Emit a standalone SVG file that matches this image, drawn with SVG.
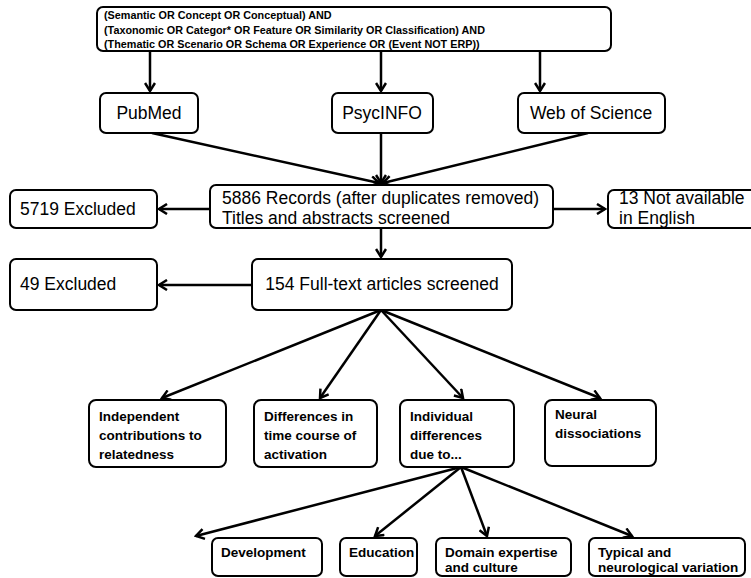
<svg xmlns="http://www.w3.org/2000/svg" width="751" height="578" viewBox="0 0 751 578">
<style>
.box{fill:#fff;stroke:#000;stroke-width:2}
.t{font-family:"Liberation Sans",Arial,sans-serif;font-size:17.5px;fill:#000}
.b{font-family:"Liberation Sans",Arial,sans-serif;font-size:13.5px;font-weight:bold;fill:#000}
.q{font-family:"Liberation Sans",Arial,sans-serif;font-size:10.8px;font-weight:bold;fill:#000}
.c{stroke:#000;stroke-width:2.5;fill:none;marker-end:url(#ah)}
</style>
<defs>
<marker id="ah" viewBox="0 0 12 12" refX="10" refY="6" markerWidth="12" markerHeight="12" markerUnits="userSpaceOnUse" orient="auto">
<path d="M2,1 L10,6 L2,11" fill="none" stroke="#000" stroke-width="2.5"/>
</marker>
</defs>
<rect width="751" height="578" fill="#fff"/>
<g id="connectors">
<line class="c" x1="150" y1="51" x2="150" y2="91"/>
<line class="c" x1="381" y1="51" x2="381" y2="91"/>
<line class="c" x1="540" y1="51" x2="540" y2="91"/>
<line class="c" x1="152" y1="133" x2="379" y2="183"/>
<line class="c" x1="381" y1="133" x2="381" y2="183"/>
<line class="c" x1="588" y1="133" x2="383" y2="183"/>
<line class="c" x1="210" y1="209" x2="159" y2="209"/>
<line class="c" x1="553" y1="209" x2="605" y2="209"/>
<line class="c" x1="381" y1="228" x2="381" y2="257"/>
<line class="c" x1="252" y1="285" x2="159" y2="285"/>
<line class="c" x1="381" y1="310" x2="162" y2="398"/>
<line class="c" x1="381" y1="310" x2="320" y2="398"/>
<line class="c" x1="381" y1="310" x2="463" y2="398"/>
<line class="c" x1="381" y1="310" x2="600" y2="398"/>
<line class="c" x1="461" y1="467" x2="196" y2="536"/>
<line class="c" x1="461" y1="467" x2="375" y2="536"/>
<line class="c" x1="461" y1="467" x2="487" y2="536"/>
<line class="c" x1="461" y1="467" x2="632" y2="536"/>
</g>
<g id="query">
<rect class="box" x="97" y="7" width="514" height="44" rx="6"/>
<text class="q" x="104" y="19">(Semantic OR Concept OR Conceptual) AND</text>
<text class="q" x="104" y="34">(Taxonomic OR Categor* OR Feature OR Similarity OR Classification) AND</text>
<text class="q" x="104" y="48">(Thematic OR Scenario OR Schema OR Experience OR (Event NOT ERP))</text>
</g>
<g id="pubmed">
<rect class="box" x="100" y="93" width="98" height="40" rx="6"/>
<text class="t" x="149" y="119" text-anchor="middle">PubMed</text>
</g>
<g id="psycinfo">
<rect class="box" x="332" y="93" width="101" height="40" rx="6"/>
<text class="t" x="382" y="119" text-anchor="middle">PsycINFO</text>
</g>
<g id="wos">
<rect class="box" x="518" y="93" width="147" height="40" rx="6"/>
<text class="t" x="591" y="119" text-anchor="middle">Web of Science</text>
</g>
<g id="records">
<rect class="box" x="210" y="185" width="343" height="43" rx="6"/>
<text class="t" x="222" y="204">5886 Records (after duplicates removed)</text>
<text class="t" x="222" y="224">Titles and abstracts screened</text>
</g>
<g id="excluded5719">
<rect class="box" x="10" y="190" width="147" height="38" rx="6"/>
<text class="t" x="20" y="215">5719 Excluded</text>
</g>
<g id="notenglish">
<rect class="box" x="608" y="190" width="160" height="38" rx="6"/>
<text class="t" x="619" y="204">13 Not available</text>
<text class="t" x="619" y="224">in English</text>
</g>
<g id="fulltext">
<rect class="box" x="252" y="259" width="260" height="51" rx="6"/>
<text class="t" x="382" y="290" text-anchor="middle">154 Full-text articles screened</text>
</g>
<g id="excluded49">
<rect class="box" x="10" y="259" width="147" height="51" rx="6"/>
<text class="t" x="20" y="290">49 Excluded</text>
</g>
<g id="independent">
<rect class="box" x="89" y="400" width="137" height="67" rx="7"/>
<text class="b" x="99" y="421">Independent</text>
<text class="b" x="99" y="440">contributions to</text>
<text class="b" x="99" y="459">relatedness</text>
</g>
<g id="timecourse">
<rect class="box" x="254" y="400" width="123" height="67" rx="7"/>
<text class="b" x="264" y="421">Differences in</text>
<text class="b" x="264" y="440">time course of</text>
<text class="b" x="264" y="459">activation</text>
</g>
<g id="individual">
<rect class="box" x="400" y="400" width="114" height="67" rx="7"/>
<text class="b" x="410" y="421">Individual</text>
<text class="b" x="410" y="440">differences</text>
<text class="b" x="410" y="459">due to...</text>
</g>
<g id="neural">
<rect class="box" x="545" y="400" width="111" height="66" rx="7"/>
<text class="b" x="555" y="419">Neural</text>
<text class="b" x="555" y="438">dissociations</text>
</g>
<g id="development">
<rect class="box" x="212" y="538" width="110" height="38" rx="6"/>
<text class="b" x="221" y="557">Development</text>
</g>
<g id="education">
<rect class="box" x="340" y="538" width="77" height="38" rx="6"/>
<text class="b" x="349" y="557">Education</text>
</g>
<g id="domain">
<rect class="box" x="436" y="538" width="135" height="38" rx="6"/>
<text class="b" x="445" y="557">Domain expertise</text>
<text class="b" x="445" y="572">and culture</text>
</g>
<g id="typical">
<rect class="box" x="589" y="538" width="156" height="38" rx="6"/>
<text class="b" x="598" y="557">Typical and</text>
<text class="b" x="598" y="572">neurological variation</text>
</g>
</svg>
